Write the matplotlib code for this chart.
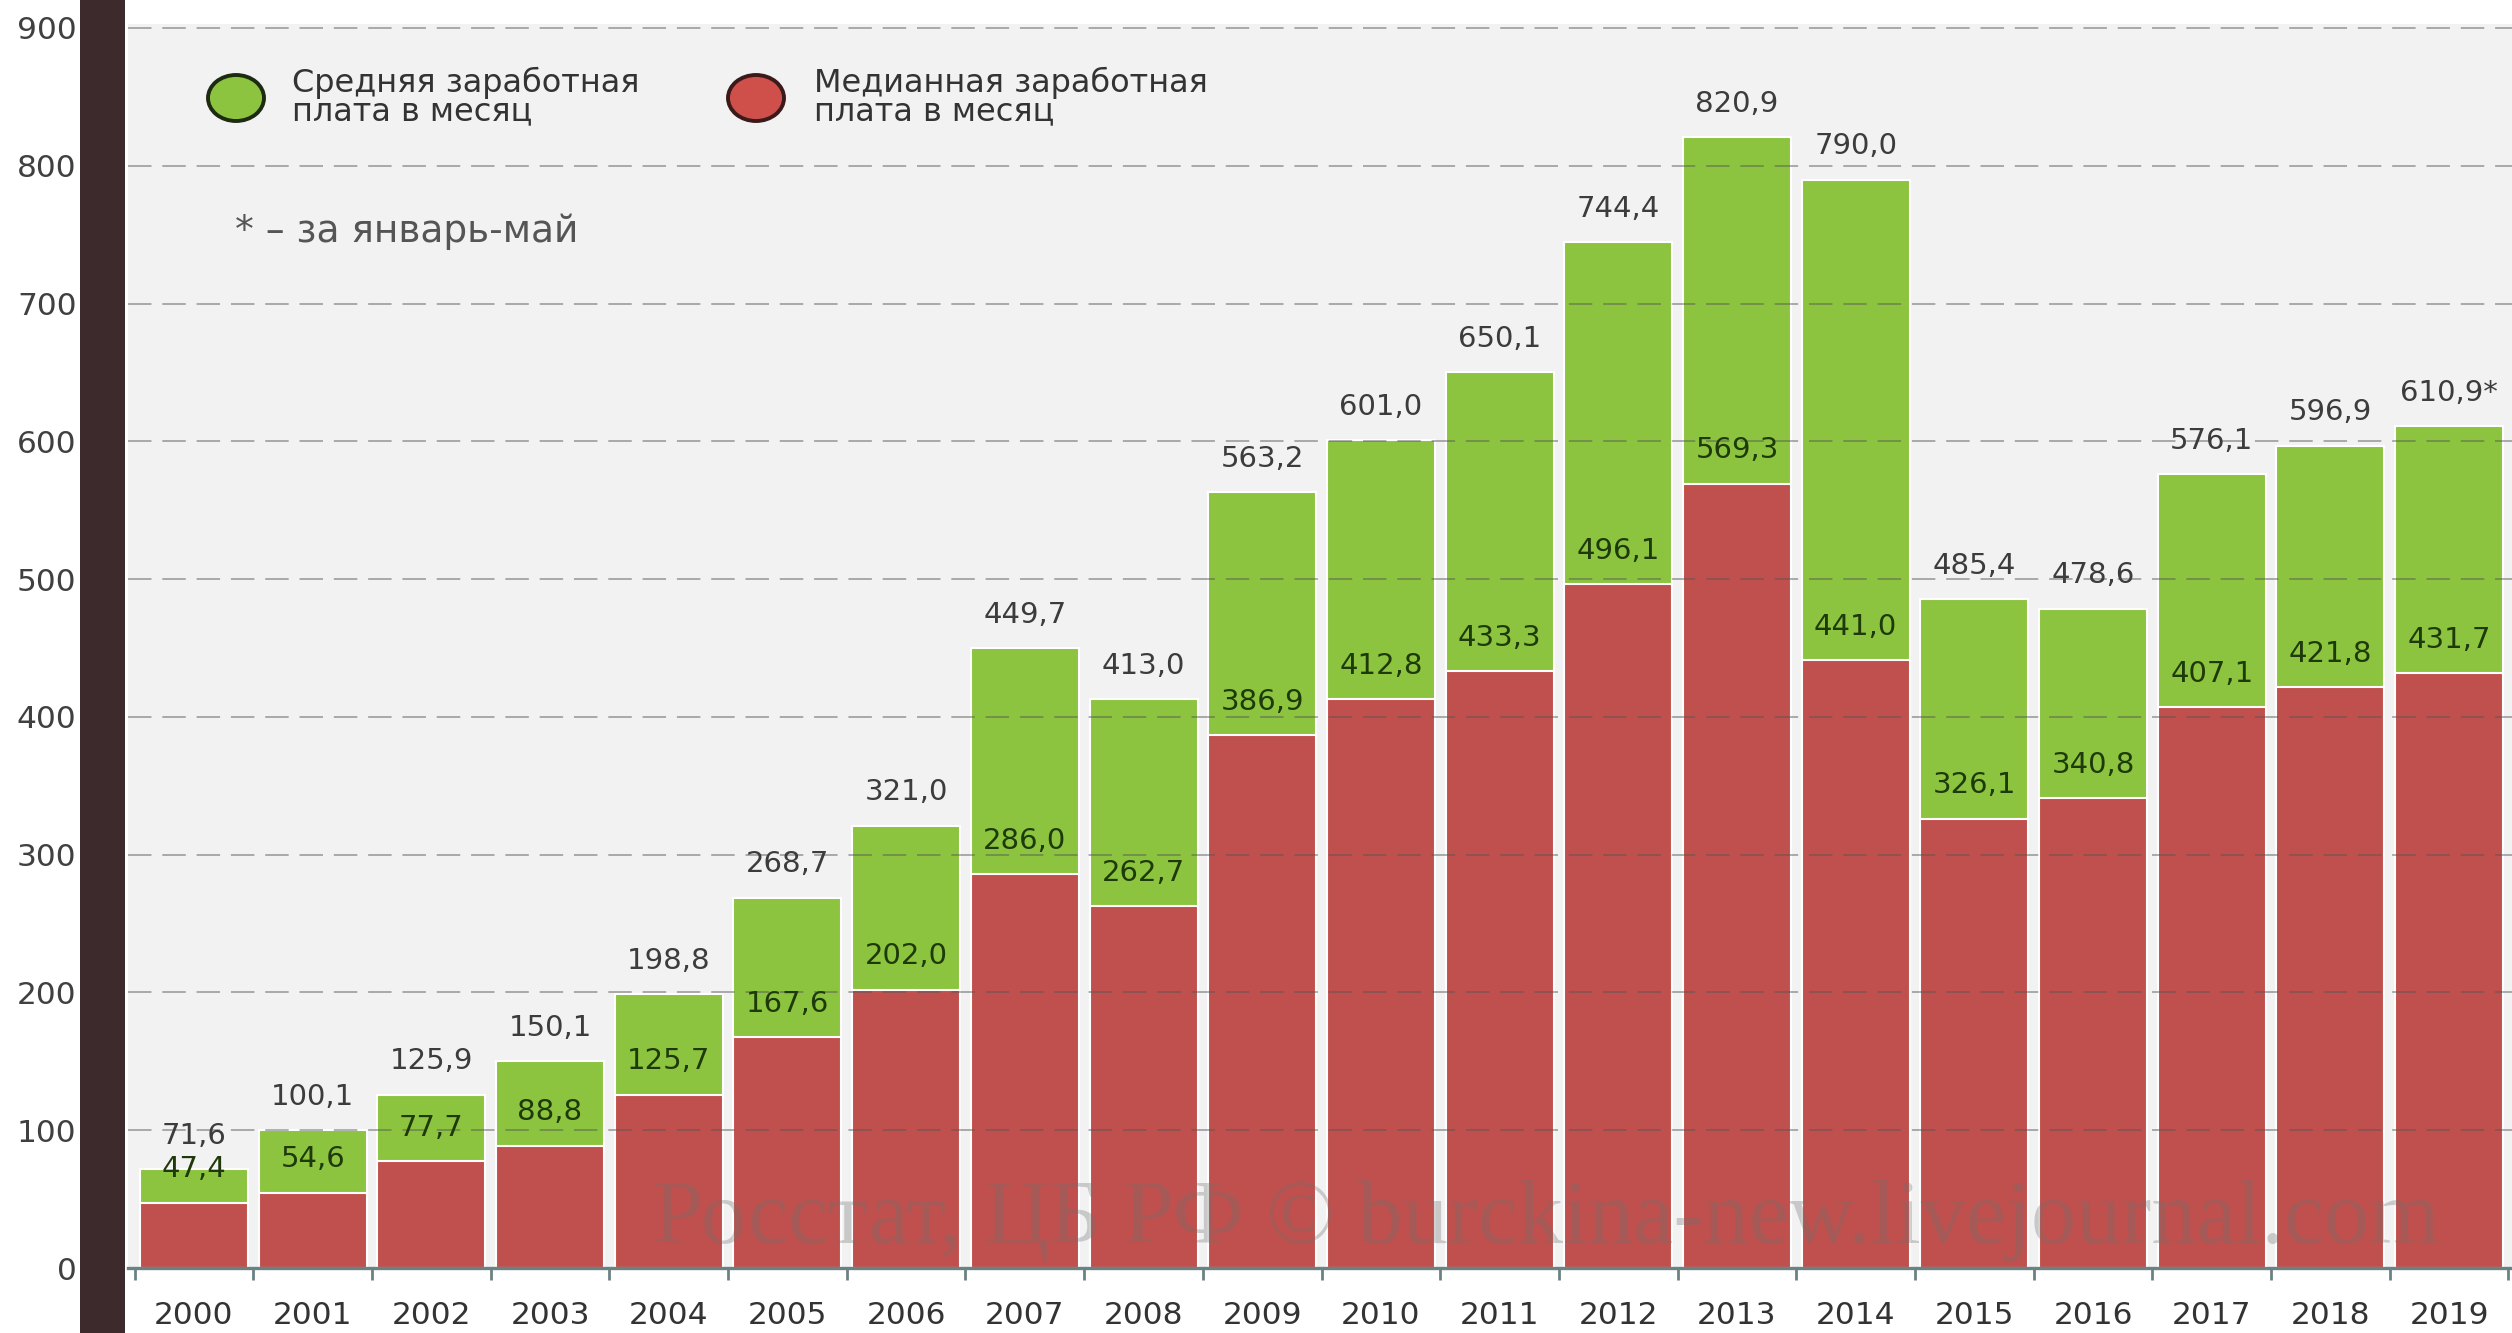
import matplotlib
matplotlib.use("Agg")
from matplotlib import pyplot as plt
from matplotlib.patches import Ellipse, Rectangle

plt.rcParams['font.family'] = ['DejaVu Sans']

years = [str(y) for y in range(2000, 2020)]
avg_wage = [71.6, 100.1, 125.9, 150.1, 198.8, 268.7, 321.0, 449.7, 413.0, 563.2,
            601.0, 650.1, 744.4, 820.9, 790.0, 485.4, 478.6, 576.1, 596.9, 610.9]
median_wage = [47.4, 54.6, 77.7, 88.8, 125.7, 167.6, 202.0, 286.0, 262.7, 386.9,
               412.8, 433.3, 496.1, 569.3, 441.0, 326.1, 340.8, 407.1, 421.8, 431.7]
avg_labels = ['71,6', '100,1', '125,9', '150,1', '198,8', '268,7', '321,0', '449,7',
              '413,0', '563,2', '601,0', '650,1', '744,4', '820,9', '790,0', '485,4',
              '478,6', '576,1', '596,9', '610,9*']
median_labels = ['47,4', '54,6', '77,7', '88,8', '125,7', '167,6', '202,0', '286,0',
                 '262,7', '386,9', '412,8', '433,3', '496,1', '569,3', '441,0', '326,1',
                 '340,8', '407,1', '421,8', '431,7']
y_ticks = list(range(0, 1000, 100))

W, H = 2512, 1333
green = '#8cc43f'
red = '#c0504d'
axis_col = '#6b8283'

fig = plt.figure(figsize=(W / 100, H / 100), dpi=100)
fig.patch.set_facecolor('white')

# dark strip on the left
fig.add_artist(Rectangle((80 / W, 0), 45 / W, 1, transform=fig.transFigure,
                         facecolor='#3d2a2c', edgecolor='none', zorder=0))

ax = fig.add_axes([128 / W, 1 - 1268 / H, 1 - 128 / W, 903 * 1.3778 / H])
ax.set_facecolor('#f2f2f3')

x = range(len(years))
ax.bar(x, avg_wage, width=0.91, color=green, edgecolor='white', linewidth=1.5, zorder=1)
ax.bar(x, median_wage, width=0.91, color=red, edgecolor='white', linewidth=1.5, zorder=1.1)

for i in x:
    ax.annotate(avg_labels[i], (i, avg_wage[i]), xytext=(0, 24), textcoords='offset points',
                ha='center', va='center', fontsize=21, color='#3c3c3c', zorder=5)
    ax.annotate(median_labels[i], (i, median_wage[i]), xytext=(0, 24), textcoords='offset points',
                ha='center', va='center', fontsize=21, color='#1f3a0a', zorder=5)

ax.set_xlim(-0.556, 19.53)
ax.set_ylim(0, 903)
ax.set_yticks(y_ticks)
ax.set_yticklabels([str(v) for v in y_ticks])
ax.set_xticks(list(x))
ax.set_xticklabels(years)
ax.set_xticks([i + 0.5 for i in range(-1, len(years))], minor=True)

ax.tick_params(axis='x', which='major', length=0, pad=24, labelsize=22.5, labelcolor='#333333')
ax.tick_params(axis='x', which='minor', length=8.5, width=2, color=axis_col, direction='out')
ax.tick_params(axis='y', which='major', length=0, pad=37, labelsize=22.5, labelcolor='#404040')

for s in ['top', 'right', 'left']:
    ax.spines[s].set_visible(False)
ax.spines['bottom'].set_color(axis_col)
ax.spines['bottom'].set_linewidth(2.4)
ax.spines['bottom'].set_zorder(6)

ax.set_axisbelow(False)
ax.yaxis.grid(True, color='#555555', alpha=0.5, linewidth=1.3, dashes=(13, 6))
ax.xaxis.grid(False)

# legend
def fx(px):
    return px / W

def fy(py):
    return 1 - py / H

fig.add_artist(Ellipse((fx(236), fy(98)), 56 / W, 46 / H, transform=fig.transFigure,
                       facecolor=green, edgecolor='#1d2b10', linewidth=2.8, zorder=10))
fig.add_artist(Ellipse((fx(756), fy(98)), 56 / W, 46 / H, transform=fig.transFigure,
                       facecolor='#cf4f4a', edgecolor='#3a1a1a', linewidth=2.8, zorder=10))
fig.text(fx(292), fy(97), 'Средняя заработная\nплата в месяц', fontsize=23,
         color='#333333', ha='left', va='center', linespacing=0.9, zorder=10)
fig.text(fx(814), fy(97), 'Медианная заработная\nплата в месяц', fontsize=23,
         color='#333333', ha='left', va='center', linespacing=0.9, zorder=10)
fig.text(fx(235), fy(232), '* – за январь-май', fontsize=27, color='#555555',
         ha='left', va='center', zorder=10)

# watermark
fig.text(fx(1546), fy(1221), 'Росстат, ЦБ РФ © burckina-new.livejournal.com',
         family='Liberation Serif', fontsize=65, color='#707070', alpha=0.32,
         ha='center', va='center', zorder=10)

fig.savefig('out.png', dpi=100)
